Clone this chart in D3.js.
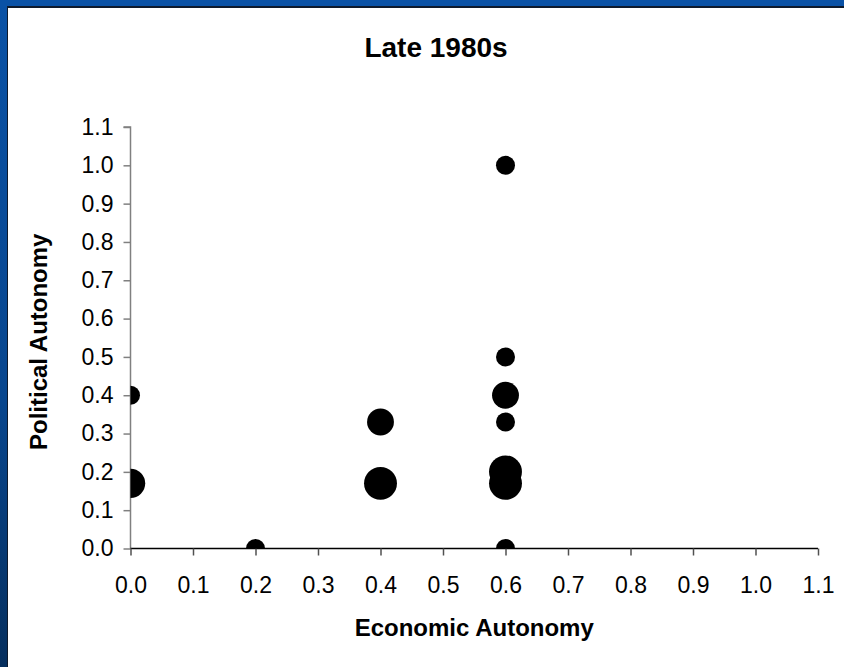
<!DOCTYPE html>
<html><head><meta charset="utf-8">
<script src="https://cdn.jsdelivr.net/npm/d3@7"></script>
<style>html,body{margin:0;padding:0;overflow:hidden;}svg{display:block;}</style>
</head><body>
<script>
const title = "Late 1980s";
const xTitle = "Economic Autonomy";
const yTitle = "Political Autonomy";
const econ = [0.0, 0.0, 0.2, 0.4, 0.4, 0.6, 0.6, 0.6, 0.6, 0.6, 0.6, 0.6];
const polit = [0.4, 0.17, 0.0, 0.33, 0.17, 1.0, 0.5, 0.4, 0.33, 0.2, 0.17, 0.0];
const size = [1, 2.4, 1, 2, 3, 1, 1, 2, 1, 3, 3, 1];
const xTicks = [0.0,0.1,0.2,0.3,0.4,0.5,0.6,0.7,0.8,0.9,1.0,1.1];
const yTicks = [0.0,0.1,0.2,0.3,0.4,0.5,0.6,0.7,0.8,0.9,1.0,1.1];

const W = 844, H = 667;
const svg = d3.select("body").append("svg").attr("width", W).attr("height", H);
const defs = svg.append("defs");
const g1 = defs.append("linearGradient").attr("id","bgl").attr("x1",0).attr("y1",0).attr("x2",0).attr("y2",1);
g1.append("stop").attr("offset","0%").attr("stop-color","#0a52a6");
g1.append("stop").attr("offset","60%").attr("stop-color","#08468e");
g1.append("stop").attr("offset","100%").attr("stop-color","#062f5e");
svg.append("rect").attr("width",W).attr("height",H).attr("fill","url(#bgl)");
svg.append("rect").attr("x",0).attr("y",0).attr("width",W).attr("height",7).attr("fill","#0a52a6");
svg.append("rect").attr("x",7).attr("y",6).attr("width",W-7).attr("height",H-6).attr("fill","#0e1a2c");
svg.append("rect").attr("x",8).attr("y",8).attr("width",W-8).attr("height",H-8).attr("fill","#ffffff");

const x = d3.scaleLinear().domain([0, 1.1]).range([130.5, 818]);
const y = d3.scaleLinear().domain([0, 1.1]).range([548.5, 127]);
const r = d3.scaleSqrt().domain([0, 1]).range([0, 9.5]);

defs.append("clipPath").attr("id","plot").append("rect")
  .attr("x", x(0)).attr("y", y(1.1)).attr("width", x(1.1)-x(0)).attr("height", y(0)-y(1.1));

const fmt = d3.format(".1f");
const font = "'Liberation Sans', Arial, sans-serif";

const yAxis = svg.append("g").attr("transform", `translate(${x(0)},0)`)
  .call(d3.axisLeft(y).tickValues(yTicks).tickFormat(fmt).tickSize(7).tickPadding(10));
yAxis.selectAll("path,line").attr("stroke","#808080").attr("stroke-width",1.5);
yAxis.select(".domain").attr("d", `M-7,${y(1.1)}H0V${y(0)}`);
yAxis.selectAll("text").attr("font-family",font).attr("font-size",23).attr("fill","#000");

const xAxis = svg.append("g").attr("transform", `translate(0,${y(0)})`)
  .call(d3.axisBottom(x).tickValues(xTicks).tickFormat(fmt).tickSize(7).tickPadding(21));
xAxis.select(".domain").attr("stroke","#000").attr("stroke-width",1.5).attr("d",`M${x(0)},0H${x(1.1)}`);
xAxis.selectAll("line").attr("stroke","#505050").attr("stroke-width",1.5);
xAxis.selectAll("text").attr("font-family",font).attr("font-size",23).attr("fill","#000");

const pts = econ.map((e,i)=>({e, p: polit[i], s: size[i]}));
svg.append("g").attr("clip-path","url(#plot)").selectAll("circle").data(pts).join("circle")
  .attr("cx", d=>x(d.e)).attr("cy", d=>y(d.p)).attr("r", d=>r(d.s)).attr("fill","#000");

svg.append("text").attr("x",436).attr("y",57).attr("text-anchor","middle")
  .attr("font-family",font).attr("font-weight","bold").attr("font-size",28).text(title);
svg.append("text").attr("x",(x(0)+x(1.1))/2).attr("y",636).attr("text-anchor","middle")
  .attr("font-family",font).attr("font-weight","bold").attr("font-size",24).text(xTitle);
svg.append("text").attr("transform",`translate(47,${(y(0)+y(1.1))/2 + 4}) rotate(-90)`).attr("text-anchor","middle")
  .attr("font-family",font).attr("font-weight","bold").attr("font-size",24).text(yTitle);
</script>
</body></html>
